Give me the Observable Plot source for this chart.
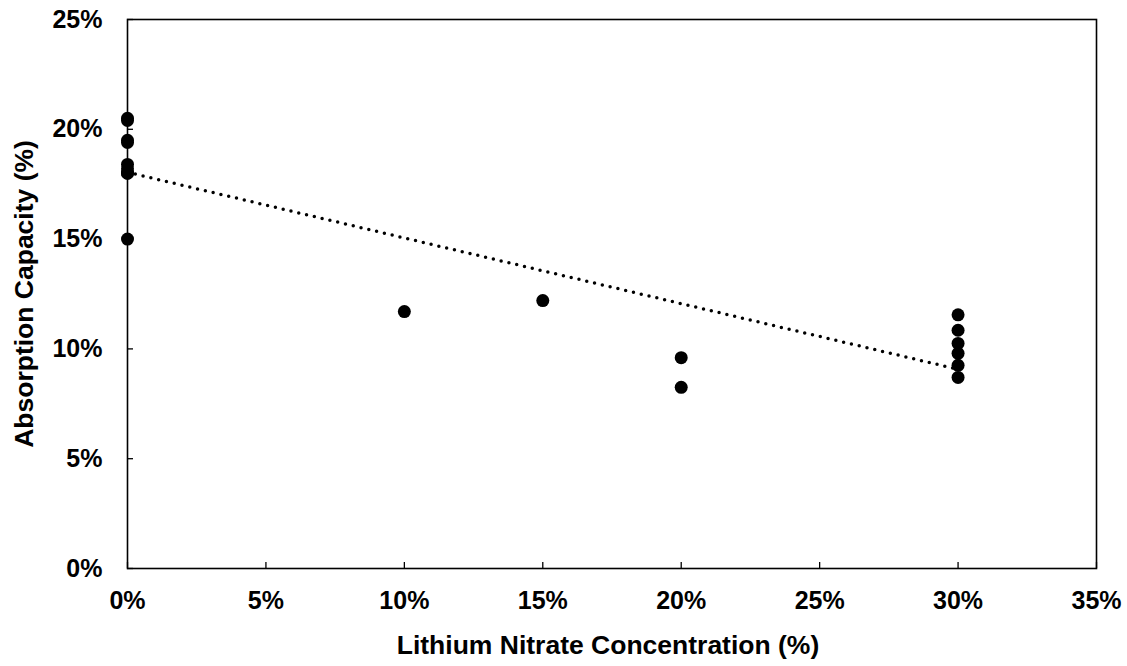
<!DOCTYPE html>
<html>
<head>
<meta charset="utf-8">
<script src="https://cdn.jsdelivr.net/npm/d3@7"></script>
<script src="https://cdn.jsdelivr.net/npm/@observablehq/plot@0.6"></script>
<style>
  html, body { margin: 0; padding: 0; background: #fff; }
  #chart svg { display: block; }
</style>
</head>
<body>
<div id="chart"></div>
<script>
// Lithium nitrate concentration (%) for each sample
const concentration = [0, 0, 0, 0, 0, 0, 0, 0, 0, 10, 15, 20, 20, 30, 30, 30, 30, 30, 30];
// Absorption capacity (%) for each sample
const absorption = [20.5, 20.4, 19.5, 19.4, 18.4, 18.2, 18.0, 18.0, 15.0, 11.7, 12.2, 9.6, 8.25, 11.55, 10.85, 10.25, 9.8, 9.25, 8.7];
const xTicks = [0, 5, 10, 15, 20, 25, 30, 35];
const yTicks = [0, 5, 10, 15, 20, 25];
const xTitle = "Lithium Nitrate Concentration (%)";
const yTitle = "Absorption Capacity (%)";

const data = concentration.map((x, i) => ({x, y: absorption[i]}));
const pct = d => d + "%";
const font = "'Liberation Sans', Arial, sans-serif";

const chart = Plot.plot({
  width: 1127,
  height: 666,
  marginLeft: 127,
  marginRight: 31,
  marginTop: 19,
  marginBottom: 98,
  style: {fontFamily: font, fontWeight: "bold", fontSize: "25px", color: "black", background: "white"},
  x: {domain: [0, 35]},
  y: {domain: [0, 25]},
  marks: [
    Plot.axisX({ticks: xTicks, tickFormat: pct, tickSize: 0, tickPadding: 23, fontSize: 25, label: null}),
    Plot.axisY({ticks: yTicks, tickFormat: pct, tickSize: 0, tickPadding: 25, fontSize: 25, label: null}),
    Plot.text([xTitle], {text: d => d, frameAnchor: "bottom", dy: 77, dx: -4, lineAnchor: "middle",
      textAnchor: "middle", fontSize: 26.5, fontWeight: "bold", fill: "black"}),
    Plot.text([yTitle], {text: d => d, frameAnchor: "left", dx: -103, rotate: -90, lineAnchor: "middle",
      textAnchor: "middle", fontSize: 26.5, fontWeight: "bold", fill: "black"}),
    Plot.tickX(xTicks, {x: d => d, stroke: "black", strokeWidth: 1.3, insetTop: 543}),
    Plot.tickY(yTicks, {y: d => d, stroke: "black", strokeWidth: 1.3, insetRight: 963}),
    Plot.frame({stroke: "black", strokeWidth: 1.6}),
    Plot.linearRegressionY(data, {x: "x", y: "y", ci: 0, stroke: "black", strokeWidth: 3.5,
      strokeDasharray: "0,8", strokeLinecap: "round"}),
    Plot.dot(data, {x: "x", y: "y", r: 6.5, fill: "black", stroke: "none"})
  ]
});
document.getElementById("chart").appendChild(chart);
</script>
</body>
</html>
